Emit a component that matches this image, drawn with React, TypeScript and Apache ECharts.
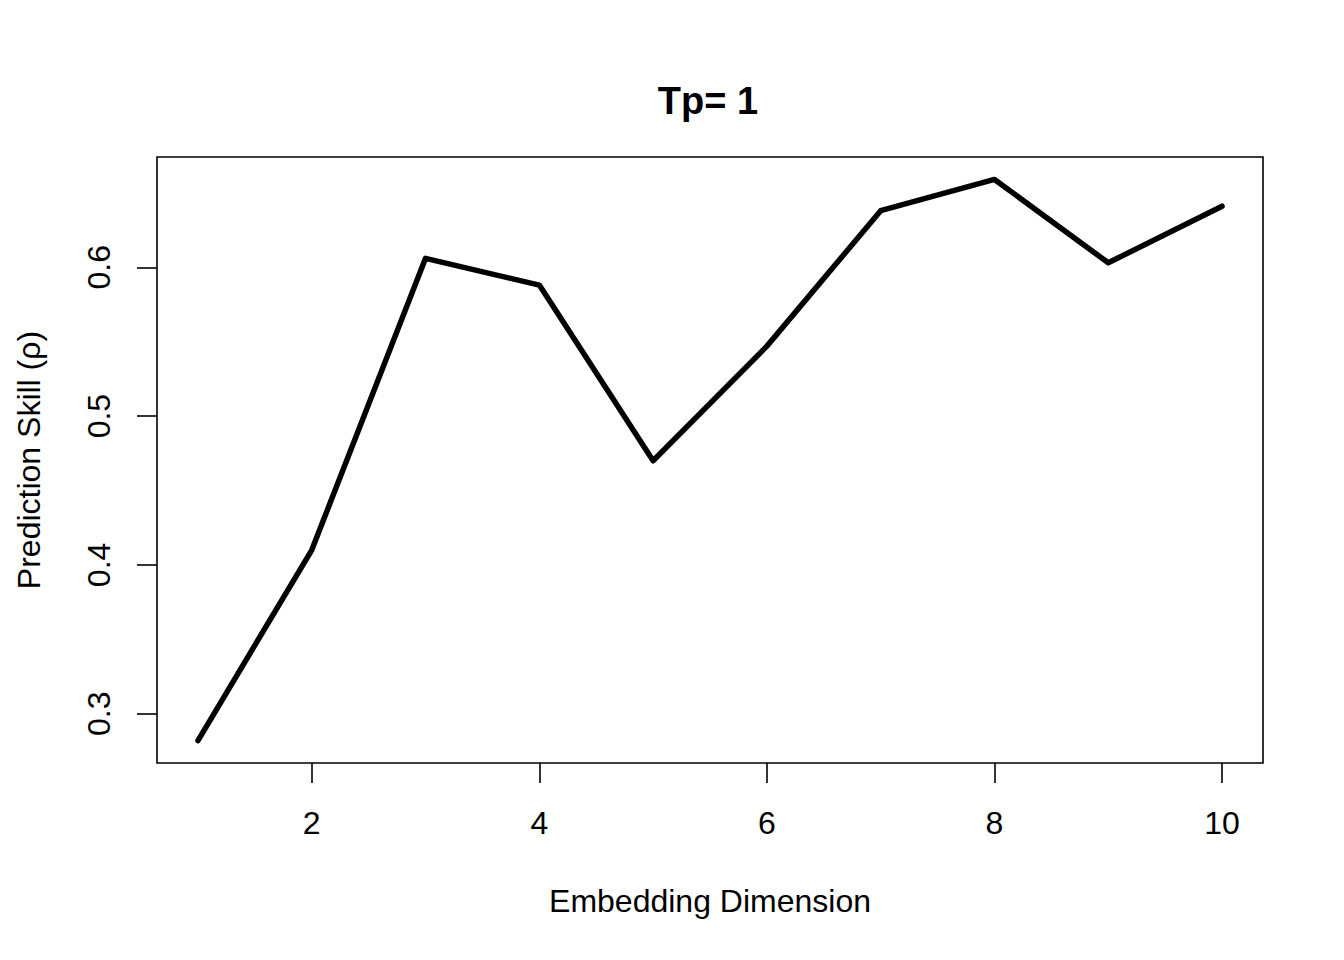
import React, { useEffect, useRef } from "react";
import * as echarts from "echarts";

const embeddingDims = [1, 2, 3, 4, 5, 6, 7, 8, 9, 10];
const predictionSkill = [0.282, 0.41, 0.606, 0.588, 0.47, 0.547, 0.638, 0.659, 0.603, 0.641];
const xTicks = [2, 4, 6, 8, 10];
const yTicks = [0.3, 0.4, 0.5, 0.6];
const titleText = "Tp= 1";
const xName = "Embedding Dimension";
const yName = "Prediction Skill (ρ)";

const FONT = "'Liberation Sans', Arial, Helvetica, sans-serif";

export default function App() {
  const ref = useRef<HTMLDivElement>(null);
  useEffect(() => {
    if (!ref.current) return;
    const chart = echarts.init(ref.current, null, { renderer: "svg" });
    const xmin = 1 - 0.04 * 9;
    const xmax = 10 + 0.04 * 9;
    const ylo = Math.min(...predictionSkill);
    const yhi = Math.max(...predictionSkill);
    const yr = yhi - ylo;
    chart.setOption({
      animation: false,
      backgroundColor: "#ffffff",
      title: {
        text: titleText,
        left: 703,
        top: 77,
        textAlign: "center",
        textStyle: { fontFamily: FONT, fontSize: 38, fontWeight: "bold", color: "#000" },
      },
      grid: {
        left: 157,
        top: 157,
        right: 81,
        bottom: 197,
        show: true,
        borderColor: "#000",
        borderWidth: 1.6,
        backgroundColor: "transparent",
      },
      xAxis: {
        type: "value",
        min: xmin,
        max: xmax,
        name: xName,
        nameLocation: "middle",
        nameGap: 122,
        nameTextStyle: { fontFamily: FONT, fontSize: 32, color: "#000" },
        axisLine: { show: false },
        splitLine: { show: false },
        axisTick: {
          show: true,
          length: 20,
          customValues: xTicks,
          lineStyle: { color: "#000", width: 1.6 },
        },
        axisLabel: {
          customValues: xTicks,
          margin: 44,
          fontFamily: FONT,
          fontSize: 32,
          color: "#000",
          formatter: (v: number) => String(v),
        },
      },
      yAxis: {
        type: "value",
        min: ylo - 0.04 * yr,
        max: yhi + 0.04 * yr,
        name: yName,
        nameLocation: "middle",
        nameRotate: 90,
        nameGap: 112,
        nameTextStyle: { fontFamily: FONT, fontSize: 32, color: "#000" },
        axisLine: { show: false },
        splitLine: { show: false },
        axisTick: {
          show: true,
          length: 20,
          customValues: yTicks,
          lineStyle: { color: "#000", width: 1.6 },
        },
        axisLabel: {
          customValues: yTicks,
          rotate: 90,
          margin: 42,
          fontFamily: FONT,
          fontSize: 32,
          color: "#000",
          formatter: (v: number) => v.toFixed(1),
        },
      },
      series: [
        {
          type: "line",
          data: embeddingDims.map((d, i) => [d, predictionSkill[i]]),
          symbol: "none",
          lineStyle: { color: "#000", width: 5.5, cap: "round", join: "round" },
        },
      ],
    });
    return () => chart.dispose();
  }, []);
  return (
    <div
      ref={ref}
      style={{ position: "fixed", left: 0, top: 0, width: 1344, height: 960, background: "#fff" }}
    />
  );
}
